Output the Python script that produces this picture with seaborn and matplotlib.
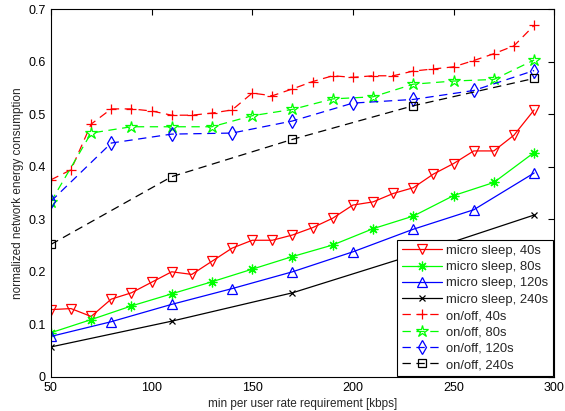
import numpy as np
import pandas as pd
import matplotlib
matplotlib.use("Agg")
import matplotlib.pyplot as plt
import seaborn as sns

sns.set_style("white")
plt.rcParams['font.family'] = ['Liberation Sans', 'DejaVu Sans']
plt.rcParams['lines.scale_dashes'] = False

# ---- data ----
x_ms40 = [50, 60, 70, 80, 90, 100, 110, 120, 130, 140, 150, 160, 170, 180, 190,
          200, 210, 220, 230, 240, 250, 260, 270, 280, 290]
y_ms40 = [0.128, 0.130, 0.115, 0.148, 0.160, 0.180, 0.200, 0.195, 0.220, 0.245,
          0.260, 0.260, 0.270, 0.284, 0.302, 0.327, 0.333, 0.349, 0.360, 0.386,
          0.406, 0.430, 0.430, 0.460, 0.508]

x_ms80 = [50, 70, 90, 110, 130, 150, 170, 190, 210, 230, 250, 270, 290]
y_ms80 = [0.084, 0.109, 0.135, 0.158, 0.181, 0.205, 0.229, 0.251, 0.282, 0.306,
          0.345, 0.370, 0.427]

x_ms120 = [50, 80, 110, 140, 170, 200, 230, 260, 290]
y_ms120 = [0.077, 0.105, 0.138, 0.168, 0.200, 0.238, 0.281, 0.318, 0.388]

x_ms240 = [50, 110, 170, 230, 290]
y_ms240 = [0.057, 0.106, 0.160, 0.232, 0.308]

x_oo40 = [50, 60, 70, 80, 90, 100, 110, 120, 130, 140, 150, 160, 170, 180, 190,
          200, 210, 220, 230, 240, 250, 260, 270, 280, 290]
y_oo40 = [0.375, 0.394, 0.481, 0.510, 0.510, 0.506, 0.498, 0.498, 0.502, 0.508,
          0.540, 0.535, 0.548, 0.562, 0.573, 0.570, 0.573, 0.573, 0.582, 0.586,
          0.590, 0.602, 0.615, 0.630, 0.669]

x_oo80 = [50, 70, 90, 110, 130, 150, 170, 190, 210, 230, 250, 270, 290]
y_oo80 = [0.333, 0.464, 0.476, 0.476, 0.476, 0.497, 0.509, 0.529, 0.533, 0.557,
          0.563, 0.566, 0.603]

x_oo120 = [50, 80, 110, 140, 170, 200, 230, 260, 290]
y_oo120 = [0.334, 0.445, 0.462, 0.464, 0.487, 0.521, 0.528, 0.545, 0.583]

x_oo240 = [50, 110, 170, 230, 290]
y_oo240 = [0.252, 0.381, 0.452, 0.516, 0.568]

labels = ['micro sleep, 40s', 'micro sleep, 80s', 'micro sleep, 120s', 'micro sleep, 240s',
          'on/off, 40s', 'on/off, 80s', 'on/off, 120s', 'on/off, 240s']

series = [
    (x_ms40, y_ms40, 'red', 'v', '-', 7.5),
    (x_ms80, y_ms80, '#00ff00', (8, 2, 0), '-', 7),
    (x_ms120, y_ms120, 'blue', '^', '-', 7.5),
    (x_ms240, y_ms240, 'black', 'x', '-', 4.5),
    (x_oo40, y_oo40, 'red', '+', (0, (6, 4)), 7),
    (x_oo80, y_oo80, '#00ff00', '*', (0, (6, 4)), 9),
    (x_oo120, y_oo120, 'blue', 'd', (0, (6, 4)), 7),
    (x_oo240, y_oo240, 'black', 's', (0, (6, 4)), 5.5),
]

fig, ax = plt.subplots(figsize=(5.65, 4.11), dpi=100)
fig.subplots_adjust(left=0.090, right=0.981, bottom=0.083, top=0.978)

for (xs, ys, col, mk, ls, ms), lab in zip(series, labels):
    sns.lineplot(x=xs, y=ys, ax=ax, color=col, marker=mk, linestyle=ls,
                 markersize=ms, markerfacecolor='none', markeredgecolor=col,
                 markeredgewidth=0.9, linewidth=0.9, label=lab)

ax.set_xlim(50, 300)
ax.set_ylim(0, 0.7)
ax.set_xticks([50, 100, 150, 200, 250, 300])
ax.set_yticks([0, 0.1, 0.2, 0.3, 0.4, 0.5, 0.6, 0.7])
ax.set_yticklabels(['0', '0.1', '0.2', '0.3', '0.4', '0.5', '0.6', '0.7'])
ax.tick_params(direction='in', top=True, right=True, length=4, width=0.8,
               labelsize=9, colors='black')
for sp in ax.spines.values():
    sp.set_color('black')
    sp.set_linewidth(0.8)

ax.set_xlabel('min per user rate requirement [kbps]', fontsize=8.5, labelpad=3)
ax.set_ylabel('normalized network energy consumption', fontsize=8.5, labelpad=3)

leg = ax.legend(loc='lower right', fontsize=9.4, frameon=True, fancybox=False,
                edgecolor='black', framealpha=1, borderaxespad=0.1,
                handlelength=3.1, handletextpad=0.3, labelspacing=0.32,
                borderpad=0.35)
leg.get_frame().set_linewidth(0.8)

fig.savefig('out.png', dpi=100, facecolor='white')
